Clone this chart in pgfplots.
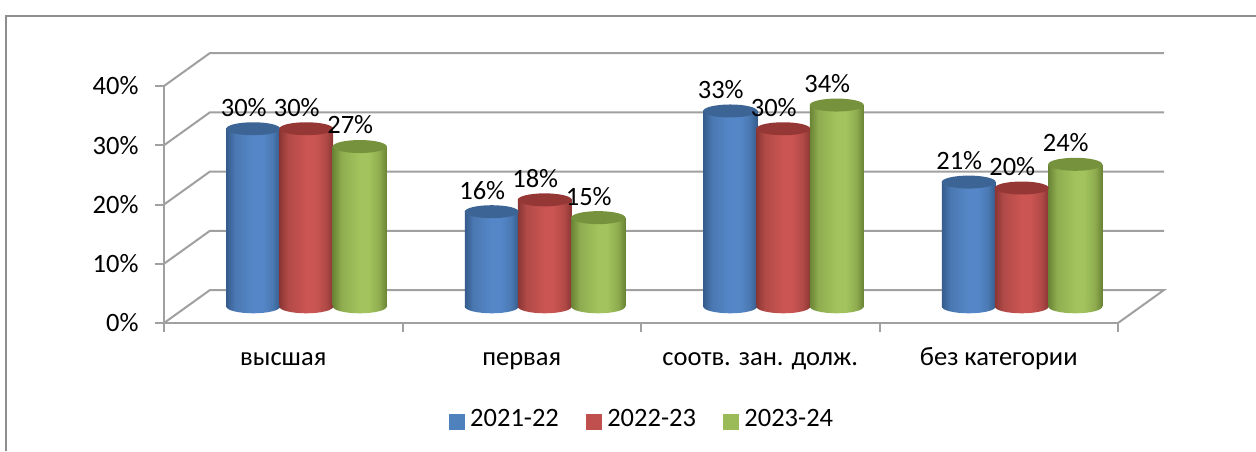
\documentclass[border=0pt]{standalone}
\usepackage{fontspec}
\setmainfont{Carlito}
\usepackage{pgfplots}
\usepackage{pgfplotstable}
\pgfplotsset{compat=1.18}
\definecolor{gridgray}{HTML}{A0A0A0}
\definecolor{framegray}{HTML}{8E8E8E}
\definecolor{legB}{HTML}{4F81BD}
\definecolor{legR}{HTML}{C0504D}
\definecolor{legG}{HTML}{9BBB59}
\definecolor{capB}{HTML}{3C6494}
\definecolor{capR}{HTML}{953735}
\definecolor{capG}{HTML}{76923C}
\definecolor{bA}{HTML}{355C8C}\definecolor{bB}{HTML}{4A78B2}\definecolor{bC}{HTML}{5587C8}
\definecolor{rA}{HTML}{8A3533}\definecolor{rB}{HTML}{B14A47}\definecolor{rC}{HTML}{CB5552}
\definecolor{gA}{HTML}{6A8435}\definecolor{gB}{HTML}{8FAD50}\definecolor{gC}{HTML}{A2C35D}
\pgfdeclarehorizontalshading{blueC}{100bp}{color(0bp)=(bA); color(25bp)=(bA); color(33bp)=(bB); color(50bp)=(bC); color(58bp)=(bC); color(68bp)=(bB); color(75bp)=(bA); color(100bp)=(bA)}
\pgfdeclarehorizontalshading{redC}{100bp}{color(0bp)=(rA); color(25bp)=(rA); color(33bp)=(rB); color(50bp)=(rC); color(58bp)=(rC); color(68bp)=(rB); color(75bp)=(rA); color(100bp)=(rA)}
\pgfdeclarehorizontalshading{greenC}{100bp}{color(0bp)=(gA); color(25bp)=(gA); color(33bp)=(gB); color(50bp)=(gC); color(58bp)=(gC); color(68bp)=(gB); color(75bp)=(gA); color(100bp)=(gA)}
\pgfdeclareplotmark{capBlue}{\fill[capB,draw=none,rotate=6] (0pt,0pt) ellipse (27pt and 6.5pt);}
\pgfdeclareplotmark{capRed}{\fill[capR,draw=none,rotate=6] (0pt,0pt) ellipse (27pt and 6.5pt);}
\pgfdeclareplotmark{capGreen}{\fill[capG,draw=none,rotate=6] (0pt,0pt) ellipse (27pt and 6.5pt);}
\pgfdeclareplotmark{botBlue}{\shade[shading=blueC,draw=none,rotate=5] (0pt,0pt) ellipse (27pt and 6.8pt);}
\pgfdeclareplotmark{botRed}{\shade[shading=redC,draw=none,rotate=5] (0pt,0pt) ellipse (27pt and 6.8pt);}
\pgfdeclareplotmark{botGreen}{\shade[shading=greenC,draw=none,rotate=5] (0pt,0pt) ellipse (27pt and 6.8pt);}
\pgfplotstableread{
x y base
0 30 0
1 16 0
2 33 0
3 21 0
}\seriesA
\pgfplotstableread{
x y base
0 30 0
1 18 0
2 30 0
3 20 0
}\seriesB
\pgfplotstableread{
x y base
0 27 0
1 15 0
2 34 0
3 24 0
}\seriesC
\newcommand{\txt}{\fontsize{26.5}{30}\selectfont}
\pgfplotsset{
  bodyshift/.style={xshift=#1, yshift=16.5pt},
  wall/.style={draw=gridgray, line width=2pt, forget plot, mark=none},
  cylbody/.style={ybar, bar width=54pt, bar shift=0pt, draw=none, shade, forget plot},
  mk/.style={only marks, forget plot, mark options={draw=none}},
  valuelabels/.style={
    nodes near coords={\pgfmathprintnumber{\pgfplotspointmeta}\%},
    nodes near coords style={font=\txt, text=black, anchor=center, xshift=-9.5pt, yshift=21.5pt, inner sep=0pt},
  },
}
\begin{document}
\begin{tikzpicture}
\useasboundingbox (-164pt,-128pt) rectangle (1092pt,323pt);
\draw[framegray, line width=2pt] (-157.5pt,-128pt) -- (-157.5pt,307.5pt) -- (1092pt,307.5pt);
\begin{axis}[
  scale only axis, width=954pt, height=237pt,
  xmin=-0.5, xmax=3.5, ymin=0, ymax=40,
  clip=false,
  axis lines*=left,
  axis line style={draw=gridgray, line width=2pt, -},
  /pgf/number format/assume math mode=true,
  tick align=outside,
  ytick={0,10,20,30,40},
  yticklabel={\pgfmathprintnumber{\tick}\%},
  major y tick style={draw=gridgray, line width=2pt},
  xtick={0,1,2,3},
  xticklabels={высшая, первая, соотв. зан. долж., без категории},
  major x tick style={draw=none},
  minor xtick={-0.5,0.5,1.5,2.5,3.5},
  minor x tick style={draw=gridgray, line width=2pt},
  major tick length=9pt, minor tick length=9pt,
  tick label style={font=\txt, text=black},
  xticklabel style={yshift=-12pt, text height=18pt, text depth=6pt, anchor=north},
  yticklabel style={xshift=-13pt},
  legend columns=3,
  legend style={draw=none, fill=none, at={(axis description cs:0.501,-0.402)}, anchor=center, font=\txt,
    /tikz/every even column/.append style={column sep=25pt}},
]
% walls and grid
\addplot[wall] coordinates {(-0.5,0) (-0.3071,5.57) (3.6929,5.57) (3.5,0)};
\addplot[wall] coordinates {(-0.5,10) (-0.3071,15.57) (3.6929,15.57)};
\addplot[wall] coordinates {(-0.5,20) (-0.3071,25.57) (3.6929,25.57)};
\addplot[wall] coordinates {(-0.5,30) (-0.3071,35.57) (3.6929,35.57)};
\addplot[wall] coordinates {(-0.5,40) (-0.3071,45.57) (3.6929,45.57)};
\addlegendimage{legend image code/.code={\fill[legB] (0pt,-11.2pt) rectangle (15pt,3.8pt); \path (19pt,0pt);}}
\addlegendentry{2021-22}
\addlegendimage{legend image code/.code={\fill[legR] (0pt,-11.2pt) rectangle (15pt,3.8pt); \path (19pt,0pt);}}
\addlegendentry{2022-23}
\addlegendimage{legend image code/.code={\fill[legG] (0pt,-11.2pt) rectangle (15pt,3.8pt); \path (19pt,0pt);}}
\addlegendentry{2023-24}
% blue
\addplot[mk, mark=botBlue, bodyshift=-30pt] table[y=base] {\seriesA};
\pgfplotsinvokeforeach{0,1,2,3}{
  \addplot[cylbody, shading=blueC, bodyshift=-30pt, restrict x to domain=#1:#1] table {\seriesA};
}
\addplot[mk, mark=capBlue, bodyshift=-30pt, valuelabels] table {\seriesA};
% red
\addplot[mk, mark=botRed, bodyshift=23pt] table[y=base] {\seriesB};
\pgfplotsinvokeforeach{0,1,2,3}{
  \addplot[cylbody, shading=redC, bodyshift=23pt, restrict x to domain=#1:#1] table {\seriesB};
}
\addplot[mk, mark=capRed, bodyshift=23pt, valuelabels] table {\seriesB};
% green
\addplot[mk, mark=botGreen, bodyshift=76.5pt] table[y=base] {\seriesC};
\pgfplotsinvokeforeach{0,1,2,3}{
  \addplot[cylbody, shading=greenC, bodyshift=76.5pt, restrict x to domain=#1:#1] table {\seriesC};
}
\addplot[mk, mark=capGreen, bodyshift=76.5pt, valuelabels] table {\seriesC};
\end{axis}
\end{tikzpicture}
\end{document}
